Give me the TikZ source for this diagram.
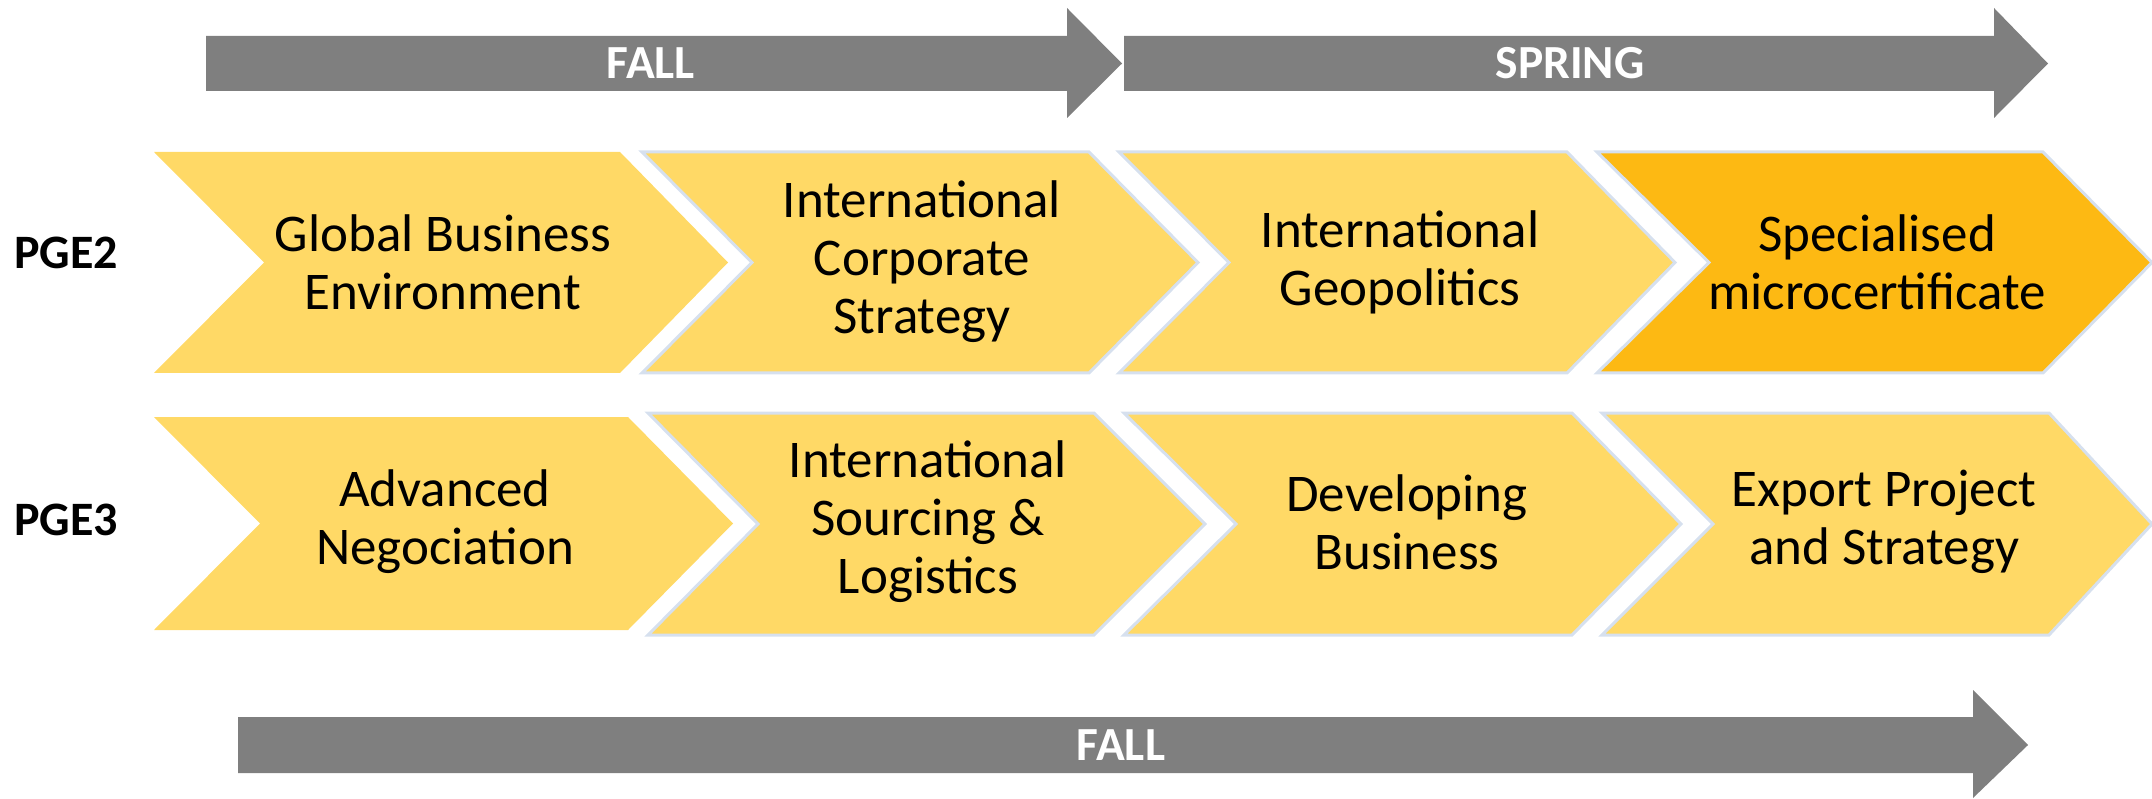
\documentclass[tikz,border=0pt]{standalone}
\usepackage{fontspec}
\setmainfont{Carlito}
\definecolor{chevy}{HTML}{FFD966}
\definecolor{chevo}{HTML}{FDB913}
\definecolor{edgeb}{HTML}{D6E0EE}
\definecolor{arrg}{HTML}{7F7F7F}
\newcommand{\chevshape}[8]{%
  \path[#1] (#2,#6) -- (#4,#6) -- (#5,#8) -- (#4,#7) -- (#2,#7) -- (#3,#8) -- cycle;}
\newcommand{\bararrow}[8]{%
  \path[barstyle] (#1,#4) -- (#2,#4) -- (#2,#6) -- (#3,#8) -- (#2,#7) -- (#2,#5) -- (#1,#5) -- cycle;}
\tikzset{
  chevA/.style={fill=chevy},
  chevB/.style={fill=chevy, draw=edgeb, line width=3pt, line join=miter},
  chevC/.style={fill=chevo, draw=edgeb, line width=3pt, line join=miter},
  barstyle/.style={fill=arrg},
  lbl/.style={align=center, inner sep=0pt, font=\fontsize{53}{58}\selectfont, text=black},
  barlbl/.style={inner sep=0pt, font=\fontsize{47.5}{52}\selectfont\bfseries, text=white},
  rowlbl/.style={inner sep=0pt, font=\fontsize{48}{56}\selectfont\bfseries, text=black},
}
\begin{document}
\begin{tikzpicture}[x=1pt,y=-1pt]
\useasboundingbox (0,0) rectangle (2152,799);
% top arrows
\bararrow{206}{1067}{1122}{36}{91}{8}{118}{63.5}
\bararrow{1124}{1994}{2048}{36}{91}{8}{118}{63.5}
% bottom arrow
\bararrow{238}{1973}{2028}{717}{773}{690}{798}{745}
\node[barlbl] (fall1) at (651,63.5) {FALL};
\node[barlbl] (spring) at (1570,63.5) {SPRING};
\node[barlbl] (fall2) at (1121,745) {FALL};
% row 1
\chevshape{chevA}{154}{264}{620}{728}{152}{373}{262.5}
\chevshape{chevB}{642}{752}{1089}{1198}{152}{373}{262.5}
\chevshape{chevB}{1119}{1229}{1567}{1675}{152}{373}{262.5}
\chevshape{chevC}{1597}{1709}{2043}{2152}{152}{373}{262.5}
% row 2
\chevshape{chevA}{154}{260}{628}{733}{417}{630}{523.5}
\chevshape{chevB}{648}{758}{1094}{1205}{413}{635}{524}
\chevshape{chevB}{1124}{1236}{1572}{1681}{413}{635}{524}
\chevshape{chevB}{1602}{1713}{2049}{2152}{413}{635}{524}
% labels
\node[rowlbl] (pge2) at (66,253) {PGE2};
\node[rowlbl] (pge3) at (66,520) {PGE3};
\node[lbl] (c11) at (443,262) {Global Business\\Environment};
\node[lbl] (c12) at (922,262) {International\\Corporate\\Strategy};
\node[lbl] (c13) at (1400,262) {International\\Geopolitics};
\node[lbl] (c14) at (1877,262) {Specialised\\microcertificate};
\node[lbl] (c21) at (445,522) {Advanced\\Negociation};
\node[lbl] (c22) at (928,522) {International\\Sourcing \&\\Logistics};
\node[lbl] (c23) at (1407,522) {Developing\\Business};
\node[lbl] (c24) at (1884,522) {Export Project\\and Strategy};
\end{tikzpicture}
\end{document}
